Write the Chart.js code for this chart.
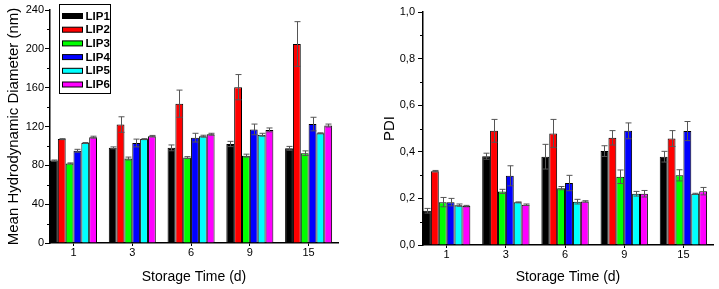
<!DOCTYPE html>
<html>
<head>
<meta charset="utf-8">
<script src="https://cdn.jsdelivr.net/npm/chart.js@4/dist/chart.umd.min.js"></script>
<style>
  body { margin: 0; background: #fff; }
  .panel { position: absolute; top: 0; height: 289px; }
</style>
</head>
<body>
<div class="panel" style="left:0;width:360px"><canvas id="sizeChart"></canvas></div>
<div class="panel" style="left:360px;width:359px"><canvas id="pdiChart"></canvas></div>
<script>
// ---- DATA ----
const days = ["1", "3", "6", "9", "15"];
const samples = ["LIP1", "LIP2", "LIP3", "LIP4", "LIP5", "LIP6"];
const sampleColors = ["#000000", "#ff0000", "#00ff00", "#0000ff", "#00ffff", "#ff00ff"];

// mean hydrodynamic diameter (nm) per storage day
const sizeLIP1 = [85, 98, 98, 102, 97.5];
const sizeLIP2 = [107, 122, 143.5, 160.5, 205];
const sizeLIP3 = [82, 87, 88, 90, 92.5];
const sizeLIP4 = [95, 103, 108.5, 117, 122.5];
const sizeLIP5 = [103, 107, 110, 111.5, 113];
const sizeLIP6 = [109, 110, 112, 116.5, 121];

const sizeErrLIP1 = [0.5, 1, 3, 2.7, 2];
const sizeErrLIP2 = [0.5, 8, 14, 13, 23];
const sizeErrLIP3 = [0.5, 1.5, 1, 1.5, 2.4];
const sizeErrLIP4 = [1.5, 4, 4.5, 5.5, 7];
const sizeErrLIP5 = [0.5, 0.5, 1, 1.5, 0.5];
const sizeErrLIP6 = [1, 0.8, 1, 2, 1.5];

// polydispersity index per storage day
const pdiLIP1 = [0.147, 0.381, 0.379, 0.403, 0.379];
const pdiLIP2 = [0.317, 0.490, 0.479, 0.460, 0.457];
const pdiLIP3 = [0.184, 0.230, 0.244, 0.293, 0.299];
const pdiLIP4 = [0.184, 0.297, 0.266, 0.490, 0.489];
const pdiLIP5 = [0.171, 0.183, 0.186, 0.220, 0.220];
const pdiLIP6 = [0.167, 0.173, 0.187, 0.220, 0.231];

const pdiErrLIP1 = [0.010, 0.013, 0.053, 0.023, 0.023];
const pdiErrLIP2 = [0.003, 0.049, 0.060, 0.031, 0.034];
const pdiErrLIP3 = [0.020, 0.009, 0.007, 0.029, 0.024];
const pdiErrLIP4 = [0.016, 0.043, 0.033, 0.034, 0.041];
const pdiErrLIP5 = [0.005, 0.002, 0.010, 0.010, 0.002];
const pdiErrLIP6 = [0.003, 0.003, 0.003, 0.014, 0.016];

const FONT = "'Liberation Sans', Arial, sans-serif";

// ---- DATASETS ----
function buildDatasets(means, errs) {
  return samples.map((name, i) => ({
    label: name,
    data: means[i].map((v, j) => ({ x: j + 1, y: v })),
    errors: errs[i],
    backgroundColor: sampleColors[i],
    borderColor: "#000",
    borderWidth: 1,
    categoryPercentage: 0.8,
    barPercentage: 1
  }));
}

// ---- ERROR BAR PLUGIN ----
const errorBars = {
  id: "errorBars",
  afterDatasetsDraw(chart) {
    const { ctx, scales } = chart;
    ctx.save();
    ctx.strokeStyle = "#555";
    ctx.lineWidth = 1;
    chart.data.datasets.forEach((ds, i) => {
      chart.getDatasetMeta(i).data.forEach((bar, j) => {
        const v = ds.data[j].y;
        const e = ds.errors[j];
        const x = Math.round(bar.x) + 0.5;
        const yTop = scales.y.getPixelForValue(v + e);
        const yBot = scales.y.getPixelForValue(v - e);
        ctx.beginPath();
        ctx.moveTo(x, yTop); ctx.lineTo(x, yBot);
        ctx.moveTo(x - 3, yTop); ctx.lineTo(x + 3, yTop);
        ctx.moveTo(x - 3, yBot); ctx.lineTo(x + 3, yBot);
        ctx.stroke();
      });
    });
    ctx.restore();
  }
};

// ---- MINOR TICKS PLUGIN ----
const minorTicks = {
  id: "minorTicks",
  afterDraw(chart) {
    const { ctx } = chart;
    const y = chart.scales.y;
    const ticks = y.ticks;
    ctx.save();
    ctx.strokeStyle = "#000";
    ctx.lineWidth = 1;
    for (let k = 0; k < ticks.length - 1; k++) {
      const py = Math.round(y.getPixelForValue((ticks[k].value + ticks[k + 1].value) / 2)) + 0.5;
      ctx.beginPath();
      ctx.moveTo(y.right - 3, py);
      ctx.lineTo(y.right, py);
      ctx.stroke();
    }
    ctx.restore();
  }
};

// ---- BOXED LEGEND PLUGIN ----
const boxLegend = {
  id: "boxLegend",
  afterDraw(chart) {
    const { ctx, chartArea } = chart;
    const left = Math.round(chartArea.left + 9) + 0.5;
    const top = 4.5, w = 51, h = 89;
    ctx.save();
    ctx.fillStyle = "#fff";
    ctx.fillRect(left, top, w, h);
    ctx.strokeStyle = "#000";
    ctx.lineWidth = 1;
    ctx.strokeRect(left, top, w, h);
    ctx.font = "bold 11.5px " + FONT;
    ctx.textBaseline = "middle";
    chart.data.datasets.forEach((ds, i) => {
      const cy = top + 11.5 + i * 13.7;
      ctx.fillStyle = ds.backgroundColor;
      ctx.fillRect(left + 3, cy - 2.5, 20, 5);
      ctx.strokeRect(left + 3, cy - 2.5, 20, 5);
      ctx.fillStyle = "#000";
      ctx.fillText(ds.label, left + 26, cy + 0.5);
    });
    ctx.restore();
  }
};

// ---- CHART ----
function makeChart(id, datasets, cfg) {
  return new Chart(document.getElementById(id), {
    type: "bar",
    data: { datasets },
    options: {
      responsive: true,
      maintainAspectRatio: false,
      animation: false,
      layout: { padding: { left: 0, right: cfg.padRight, top: cfg.padTop, bottom: 0 } },
      plugins: { legend: { display: false }, tooltip: { enabled: false } },
      scales: {
        x: {
          type: "linear",
          offset: false,
          min: 0.6,
          max: 5.5,
          afterBuildTicks: s => { s.ticks = days.map((d, i) => ({ value: i + 1 })); },
          afterFit: s => { s.height = cfg.xHeight; },
          ticks: {
            callback: v => days[v - 1],
            autoSkip: false,
            maxRotation: 0,
            padding: 0,
            color: "#000",
            font: { family: FONT, size: 11 }
          },
          grid: { offset: false, drawOnChartArea: false, tickLength: 3, color: "#000" },
          border: { color: "#000", width: 1.5 },
          title: {
            display: true,
            text: "Storage Time (d)",
            color: "#000",
            font: { family: FONT, size: 14 },
            padding: { top: 0, bottom: 3.6 }
          }
        },
        y: {
          min: 0,
          max: cfg.yMax,
          afterFit: s => { s.width = cfg.yWidth; },
          ticks: {
            stepSize: cfg.yStep,
            callback: cfg.yLabel,
            padding: cfg.yTickPad,
            color: "#000",
            font: { family: FONT, size: 11 }
          },
          grid: { drawOnChartArea: false, tickLength: 5, color: "#000" },
          border: { color: "#000", width: 1.5 },
          title: {
            display: true,
            text: cfg.yTitle,
            color: "#000",
            font: { family: FONT, size: cfg.yTitleSize },
            padding: { top: cfg.yTitlePad, bottom: 0 }
          }
        }
      }
    },
    plugins: cfg.plugins
  });
}

makeChart("sizeChart",
  buildDatasets(
    [sizeLIP1, sizeLIP2, sizeLIP3, sizeLIP4, sizeLIP5, sizeLIP6],
    [sizeErrLIP1, sizeErrLIP2, sizeErrLIP3, sizeErrLIP4, sizeErrLIP5, sizeErrLIP6]
  ),
  {
    padRight: 22, padTop: 10, xHeight: 46, yWidth: 50,
    yMax: 240, yStep: 40, yLabel: v => v, yTickPad: 1,
    yTitle: "Mean Hydrodynamic Diameter (nm)", yTitleSize: 15, yTitlePad: 5,
    plugins: [errorBars, minorTicks, boxLegend]
  });

makeChart("pdiChart",
  buildDatasets(
    [pdiLIP1, pdiLIP2, pdiLIP3, pdiLIP4, pdiLIP5, pdiLIP6],
    [pdiErrLIP1, pdiErrLIP2, pdiErrLIP3, pdiErrLIP4, pdiErrLIP5, pdiErrLIP6]
  ),
  {
    padRight: 6, padTop: 12, xHeight: 44, yWidth: 63,
    yMax: 1, yStep: 0.2, yLabel: v => v.toFixed(1).replace(".", ","), yTickPad: 3,
    yTitle: "PDI", yTitleSize: 15, yTitlePad: 21,
    plugins: [errorBars, minorTicks]
  });
</script>
</body>
</html>
